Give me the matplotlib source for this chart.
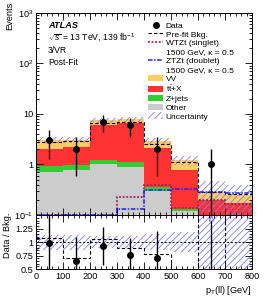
import numpy as np
import matplotlib
matplotlib.use("Agg")
import matplotlib.pyplot as plt
from matplotlib.lines import Line2D
from matplotlib.patches import Patch
from matplotlib.ticker import FixedLocator, FixedFormatter, MultipleLocator, LogLocator, NullFormatter

plt.rcParams['font.family'] = ['Liberation Sans', 'DejaVu Sans']
plt.rcParams['mathtext.fontset'] = 'custom'
plt.rcParams['mathtext.rm'] = 'Liberation Sans'
plt.rcParams['mathtext.it'] = 'Liberation Sans:italic'
plt.rcParams['mathtext.bf'] = 'Liberation Sans:bold'
plt.rcParams['hatch.linewidth'] = 0.6

# ---------------- data ----------------
bin_edges = [0, 100, 200, 300, 400, 500, 600, 700, 800]
data = [3, 2, 7, 6, 2, 0, 1, 0]
other = [0.70, 0.79, 1.04, 0.90, 0.30, 0.12, 0.0, 0.0]
zjets = [0.25, 0.20, 0.17, 0.23, 0.05, 0.01, 0.0, 0.0]
ttx = [1.05, 1.21, 4.89, 5.37, 1.75, 0.65, 0.20, 0.17]
vv = [1.05, 0.90, 1.40, 1.40, 0.75, 0.45, 0.09, 0.08]
prefit = [2.78, 2.86, 6.67, 6.80, 2.56, 1.13, 0.28, 0.26]
unc_rel = [0.14, 0.14, 0.11, 0.11, 0.15, 0.19, 0.60, 0.60]
wtzt = [0.10, 0.10, 0.10, 0.23, 0.40, 0.135, 0.20, 0.165]
ztzt = [0.10, 0.10, 0.10, 0.13, 0.31, 0.32, 0.29, 0.27]
x_ticks = [0, 100, 200, 300, 400, 500, 600, 700, 800]
y_ticks = [0.1, 1, 10, 100, 1000]
y_ticklabels = ['$10^{-1}$', '1', '10', '$10^{2}$', '$10^{3}$']
r_ticks = [0.5, 0.75, 1, 1.25]
r_ticklabels = ['0.5', '0.75', '1', '1.25']

c_vv = '#ffcc66'
c_ttx = '#ff3333'
c_zj = '#33cc33'
c_oth = '#cccccc'
c_hatch = '#7f7fff'
c_wtzt = '#a0205a'
c_ztzt = '#1f1fff'

edges = np.array(bin_edges, dtype=float)
centers = 0.5 * (edges[:-1] + edges[1:])
data_a = np.array(data, dtype=float)
layers = [np.array(other), np.array(zjets), np.array(ttx), np.array(vv)]
colors = [c_oth, c_zj, c_ttx, c_vv]
total = np.sum(layers, axis=0)
unc = np.array(unc_rel)

def ext(a):
    return np.append(a, a[-1])

fig = plt.figure(figsize=(2.66, 3.01), dpi=100)
ax = fig.add_axes([0.135, 0.286, 0.812, 0.671])
rax = fig.add_axes([0.135, 0.106, 0.812, 0.180])

FLOOR = 1e-3
cum = np.zeros(len(total))
for lay, col in zip(layers, colors):
    lo = np.maximum(cum, FLOOR)
    hi = np.maximum(cum + lay, FLOOR)
    ax.fill_between(edges, ext(lo), ext(hi), step='post', facecolor=col, edgecolor='none', linewidth=0)
    cum = cum + lay

ax.fill_between(edges, ext(total * (1 - unc)), ext(total * (1 + unc)), step='post',
                facecolor='none', edgecolor=c_hatch, hatch='/////', linewidth=0)
ax.stairs(prefit, edges, color='k', ls=(0, (3, 2)), lw=0.8, baseline=None)
ax.stairs(wtzt, edges, color=c_wtzt, ls=(0, (1, 1)), lw=1.3, baseline=None)
ax.stairs(ztzt, edges, color=c_ztzt, ls=(0, (3, 1, 1, 1)), lw=1.1, baseline=None)

m = data_a > 0
err = np.sqrt(data_a)
lo_err = np.minimum(err, data_a - FLOOR)
ax.errorbar(centers[m], data_a[m], yerr=[lo_err[m], err[m]], fmt='o', color='k',
            ms=4, lw=1.0, capsize=0, zorder=10)

ax.set_yscale('log')
ax.set_ylim(0.1, 1000)
ax.set_xlim(0, 800)
ax.yaxis.set_major_locator(FixedLocator(y_ticks))
ax.yaxis.set_major_formatter(FixedFormatter(y_ticklabels))
ax.yaxis.set_minor_locator(LogLocator(base=10, subs=np.arange(2, 10)))
ax.yaxis.set_minor_formatter(NullFormatter())
ax.xaxis.set_major_locator(FixedLocator(x_ticks))
ax.xaxis.set_minor_locator(MultipleLocator(20))
ax.set_xticklabels([])

for a in (ax, rax):
    a.tick_params(which='both', direction='in', top=True, right=True, labelsize=6.6, pad=2)
    a.tick_params(which='major', length=5, width=0.6)
    a.tick_params(which='minor', length=2.5, width=0.6)
    for s in a.spines.values():
        s.set_linewidth(0.7)

# text
ax.text(0.055, 0.94, 'ATLAS', transform=ax.transAxes, fontsize=6.6, fontweight='bold',
        fontstyle='italic', va='center', ha='left')
ax.text(0.055, 0.878, r'$\sqrt{s}$ = 13 TeV, 139 fb$^{-1}$', transform=ax.transAxes, fontsize=6.2,
        va='center', ha='left')
ax.text(0.055, 0.815, '3/VR', transform=ax.transAxes, fontsize=6.2, va='center', ha='left')
ax.text(0.055, 0.753, 'Post-Fit', transform=ax.transAxes, fontsize=6.2, va='center', ha='left')

inv = Line2D([], [], color='none')
handles = [
    Line2D([], [], marker='o', color='k', ls='none', ms=4),
    Line2D([], [], color='k', ls=(0, (3, 2)), lw=0.8),
    Line2D([], [], color=c_wtzt, ls=(0, (1, 1)), lw=1.3),
    inv,
    Line2D([], [], color=c_ztzt, ls=(0, (3, 1, 1, 1)), lw=1.1),
    inv,
    Patch(facecolor=c_vv, edgecolor='none'),
    Patch(facecolor=c_ttx, edgecolor='none'),
    Patch(facecolor=c_zj, edgecolor='none'),
    Patch(facecolor=c_oth, edgecolor='none'),
    Patch(facecolor='none', edgecolor=c_hatch, hatch='/////', linewidth=0),
]
labels = ['Data', 'Pre-fit Bkg.', 'WTZt (singlet)', '1500 GeV, κ = 0.5', 'ZTZt (doublet)',
          '1500 GeV, κ = 0.5', 'VV', r'$\mathrm{t\bar{t}}$+X', 'Z+jets', 'Other', 'Uncertainty']
ax.legend(handles, labels, loc='upper left', bbox_to_anchor=(0.52, 0.958), frameon=False,
          fontsize=6.0, borderpad=0, borderaxespad=0, handlelength=1.8, handleheight=0.85,
          handletextpad=0.3, labelspacing=0.08)

fig.text(0.038, 0.995, 'Events', rotation=90, va='top', ha='center', fontsize=6.6)

# ratio panel
rax.fill_between(edges, ext(1 - unc), ext(1 + unc), step='post', facecolor='none',
                 edgecolor=c_hatch, hatch='/////', linewidth=0)
rax.axhline(1, color='k', ls=(0, (2, 2)), lw=0.7)
pre_ratio = np.clip(data_a / np.array(prefit), 0.3, 2.0)
rax.stairs(pre_ratio, edges, color='k', ls=(0, (3, 2)), lw=0.8, baseline=None)
ratio = data_a / total
rerr = err / total
inr = m & (ratio < 1.5)
rax.errorbar(centers[inr], ratio[inr], yerr=rerr[inr], fmt='o', color='k', ms=4, lw=1.0, capsize=0,
             zorder=10)
out = m & (ratio >= 1.5)
for xc, r, e in zip(centers[out], ratio[out], rerr[out]):
    rax.plot([xc, xc], [max(r - e, 0.3), 1.6], color='k', lw=1.0)
    rax.plot([xc], [1.455], marker='^', ms=3.5, mfc='white', mec=c_hatch, mew=0.8, ls='none',
             zorder=11)
rax.set_xlim(0, 800)
rax.set_ylim(0.5, 1.505)
rax.yaxis.set_major_locator(FixedLocator(r_ticks))
rax.yaxis.set_major_formatter(FixedFormatter(r_ticklabels))
rax.yaxis.set_minor_locator(MultipleLocator(0.05))
rax.xaxis.set_major_locator(FixedLocator(x_ticks))
rax.xaxis.set_minor_locator(MultipleLocator(20))
rax.set_xticklabels([str(t) for t in x_ticks])
rax.set_xlabel(r'p$_{\mathrm{T}}$(ll) [GeV]', fontsize=6.6, loc='right', labelpad=2)
fig.text(0.03, 1 - 213 / 301, 'Data / Bkg.', rotation=90, va='top', ha='center', fontsize=6.6)

fig.savefig('out.png', dpi=100)
